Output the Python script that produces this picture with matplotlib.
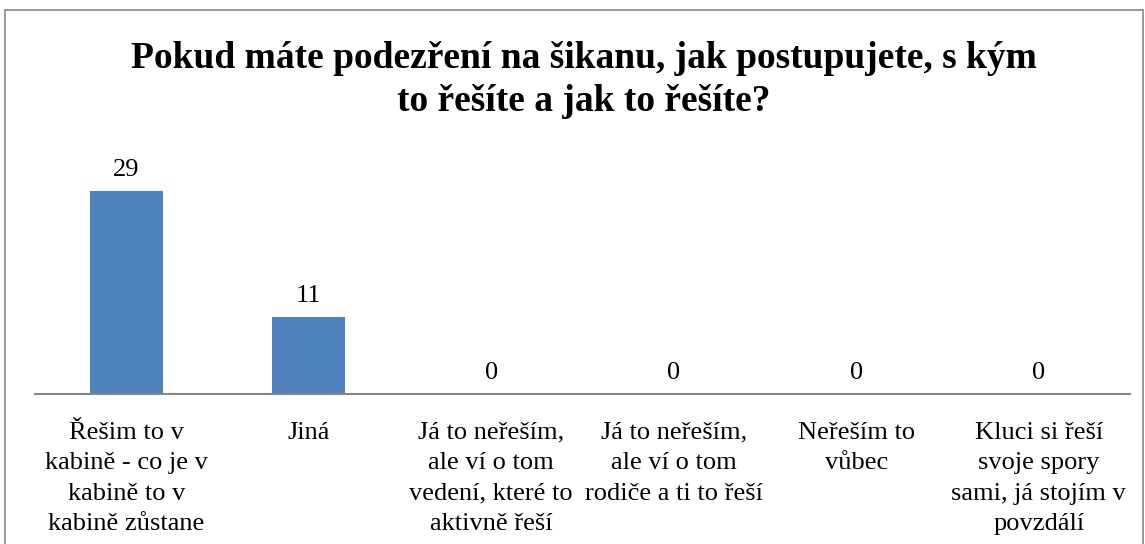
import matplotlib
matplotlib.use("Agg")
import matplotlib.pyplot as plt
from matplotlib.patches import Rectangle

plt.rcParams['font.family'] = ['Liberation Serif', 'DejaVu Serif']

title = "Pokud máte podezření na šikanu, jak postupujete, s kým\nto řešíte a jak to řešíte?"
categories = [
    "Řešim to v\nkabině - co je v\nkabině to v\nkabině zůstane",
    "Jiná",
    "Já to neřeším,\nale ví o tom\nvedení, které to\naktivně řeší",
    "Já to neřeším,\nale ví o tom\nrodiče a ti to řeší",
    "Neřeším to\nvůbec",
    "Kluci si řeší\nsvoje spory\nsami, já stojím v\npovzdálí",
]
values = [29, 11, 0, 0, 0, 0]

W, H = 1145, 544
fig = plt.figure(figsize=(W / 100, H / 100), dpi=100)

# chart border (gray frame like the office export)
fig.patches.append(Rectangle((5 / W, -0.1), 1138 / W, 1.1 - 10 / H, transform=fig.transFigure,
                             fill=False, edgecolor="#868686", linewidth=1.2))

ax = fig.add_axes([35 / W, (H - 394) / H, 1095 / W, 231 / H])
x = list(range(len(categories)))
ax.bar(x, values, width=0.4, color="#4F81BD")
ax.set_xlim(-0.5, len(categories) - 0.5)
ax.set_ylim(0, 33)

for xi, v in zip(x, values):
    ax.annotate(str(v), (xi, v), xytext=(0, 7.5), textcoords="offset points",
                ha="center", va="bottom", fontsize=19)

ax.set_xticks(x)
ax.set_xticklabels(categories, fontsize=19, linespacing=1.5, va="top")
ax.tick_params(axis="x", length=0, pad=20)
ax.set_yticks([])
for side in ["top", "left", "right"]:
    ax.spines[side].set_visible(False)
ax.spines["bottom"].set_color("#868686")
ax.spines["bottom"].set_linewidth(1.5)

fig.text(584 / W, 1 - 80 / H, title, ha="center", va="center", fontsize=27,
         fontweight="bold", linespacing=1.3)

fig.savefig("out.png", dpi=100)
